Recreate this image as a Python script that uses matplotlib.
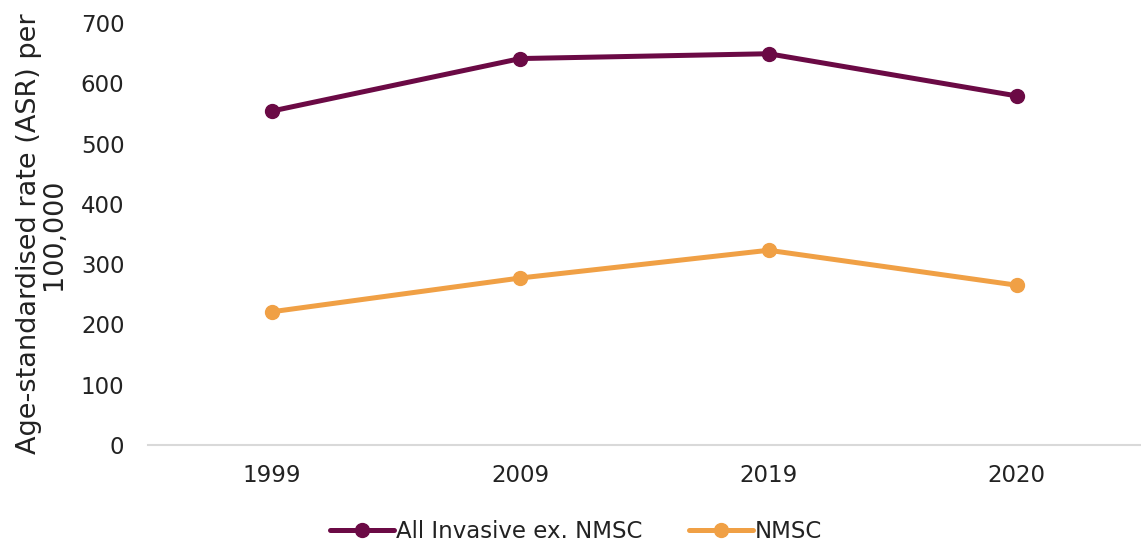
import matplotlib
matplotlib.use("Agg")
import matplotlib.pyplot as plt

years = ["1999", "2009", "2019", "2020"]
all_invasive = [554, 641, 649, 579]
nmsc = [221, 277, 323, 265]
yticks = [0, 100, 200, 300, 400, 500, 600, 700]

purple = "#6B0A45"
orange = "#F0A045"

plt.rcParams["font.family"] = ["DejaVu Sans"]

fig = plt.figure(figsize=(11.41, 5.41), dpi=100)
ax = fig.add_axes([0.1297, 0.1775, 0.8703, 0.78])

x = range(len(years))
ax.plot(x, all_invasive, color=purple, lw=3.6, marker="o", ms=10,
        label="All Invasive ex. NMSC", solid_capstyle="round")
ax.plot(x, nmsc, color=orange, lw=3.6, marker="o", ms=10,
        label="NMSC", solid_capstyle="round")

ax.set_xlim(-0.5, len(years) - 0.5)
ax.set_ylim(0, 700)
ax.set_yticks(yticks)
ax.set_xticks(list(x))
ax.set_xticklabels(years)
ax.tick_params(axis="both", length=0, labelsize=16.5, colors="#222222")
ax.tick_params(axis="y", pad=17)
ax.tick_params(axis="x", pad=14)

for s in ["top", "right", "left"]:
    ax.spines[s].set_visible(False)
ax.spines["bottom"].set_color("#d9d9d9")
ax.spines["bottom"].set_linewidth(1.5)

ax.set_ylabel("Age-standardised rate (ASR) per\n100,000", fontsize=19.5,
              color="#222222", linespacing=0.95)
ax.yaxis.set_label_coords(-0.082, 0.5)

leg = fig.legend(loc="lower center", bbox_to_anchor=(0.505, -0.042), ncol=2,
                 frameon=False, fontsize=16.5, handlelength=2.8,
                 handletextpad=0.1, columnspacing=2.0)
for t in leg.get_texts():
    t.set_color("#222222")

fig.savefig("out.png", dpi=100)
